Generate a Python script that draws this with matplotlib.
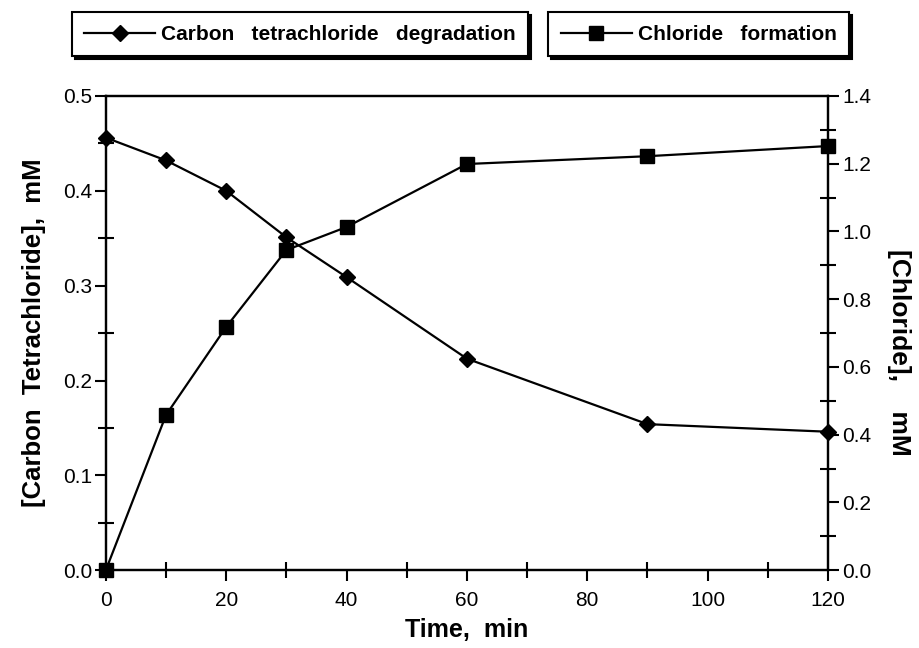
import matplotlib
matplotlib.use("Agg")
import matplotlib.pyplot as plt
from matplotlib.ticker import MultipleLocator

plt.rcParams["font.family"] = ["Liberation Sans", "DejaVu Sans"]

time_min = [0, 10, 20, 30, 40, 60, 90, 120]
ct_mM = [0.456, 0.432, 0.400, 0.351, 0.309, 0.223, 0.154, 0.146]
chloride_mM = [0.0, 0.458, 0.718, 0.945, 1.013, 1.199, 1.222, 1.252]

ct_label = "Carbon   tetrachloride   degradation"
cl_label = "Chloride   formation"

fig = plt.figure(figsize=(9.2, 6.48), dpi=100)
ax = fig.add_axes([0.115, 0.12, 0.785, 0.732])
ax2 = ax.twinx()

l1, = ax.plot(time_min, ct_mM, color="black", lw=1.6, marker="D", markersize=8,
              clip_on=False, zorder=3)
l2, = ax2.plot(time_min, chloride_mM, color="black", lw=1.6, marker="s", markersize=9.5,
               clip_on=False, zorder=3)

ax.set_xlim(0, 120)
ax.set_ylim(0, 0.5)
ax2.set_ylim(0, 1.4)

ax.xaxis.set_major_locator(MultipleLocator(20))
ax.xaxis.set_minor_locator(MultipleLocator(10))
ax.yaxis.set_major_locator(MultipleLocator(0.1))
ax.yaxis.set_minor_locator(MultipleLocator(0.05))
ax2.yaxis.set_major_locator(MultipleLocator(0.2))
ax2.yaxis.set_minor_locator(MultipleLocator(0.1))

ax.yaxis.set_major_formatter(plt.FuncFormatter(lambda v, pos: "{:.1f}".format(v)))
ax2.yaxis.set_major_formatter(plt.FuncFormatter(lambda v, pos: "{:.1f}".format(v)))

for a in (ax, ax2):
    a.tick_params(which="major", direction="out", length=8, width=1.5, labelsize=15, pad=2)
    a.tick_params(which="minor", direction="inout", length=12, width=1.5)
    for s in a.spines.values():
        s.set_linewidth(1.6)
ax.tick_params(axis="x", pad=7)

ax.set_xlabel("Time,  min", fontsize=18, fontweight="bold", labelpad=6)
ax.set_ylabel("[Carbon  Tetrachloride],  mM", fontsize=18.5, fontweight="bold", labelpad=12)
ax2.set_ylabel("[Chloride],    mM", fontsize=19, fontweight="bold", rotation=270, labelpad=24)
ax2.yaxis.set_label_coords(1.115, 0.46)

shadow = {"color": "black", "alpha": 1.0}
legend_kw = dict(loc="upper left", fancybox=False, shadow=shadow, edgecolor="black",
                 framealpha=1, handlelength=3.4, handletextpad=0.3, borderpad=0.6,
                 borderaxespad=0, prop={"size": 15, "weight": "bold"})
leg1 = fig.legend([l1], [ct_label], bbox_to_anchor=(0.078, 0.981), **legend_kw)
leg2 = fig.legend([l2], [cl_label], bbox_to_anchor=(0.596, 0.981), **legend_kw)
for lg in (leg1, leg2):
    lg.get_frame().set_linewidth(1.5)

fig.savefig("out.png", dpi=100)
